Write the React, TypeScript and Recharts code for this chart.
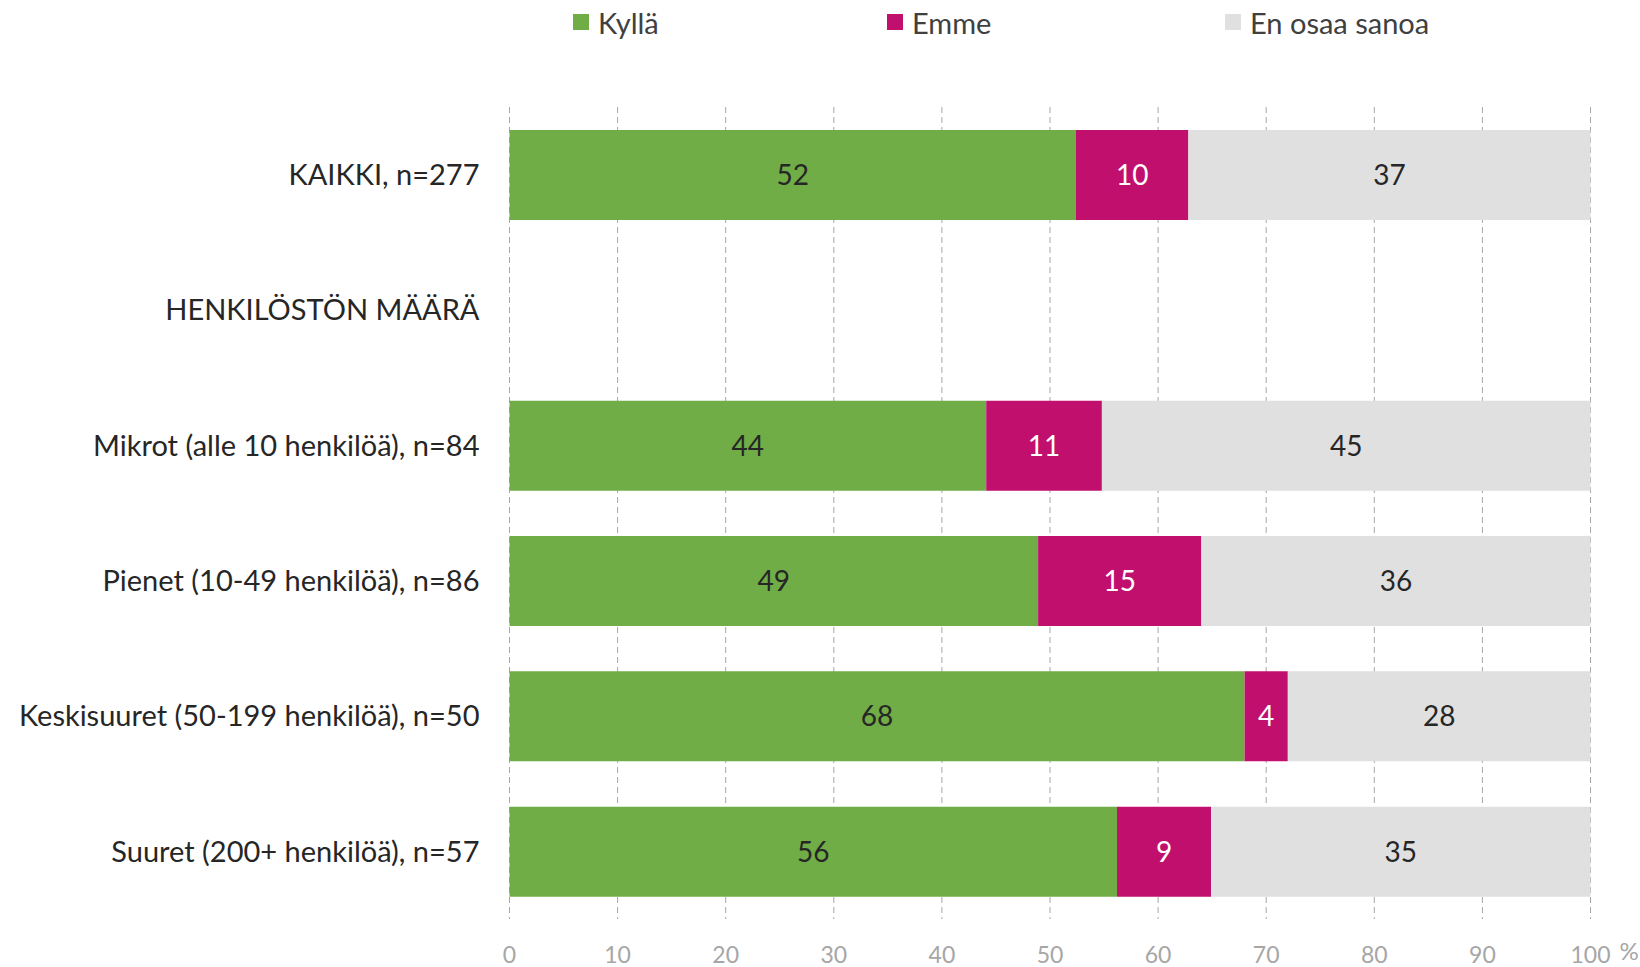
import React from 'react';
import { BarChart, Bar, XAxis, YAxis, CartesianGrid, Legend, LabelList } from 'recharts';

const categories = [
  'KAIKKI, n=277',
  'HENKILÖSTÖN MÄÄRÄ',
  'Mikrot (alle 10 henkilöä), n=84',
  'Pienet (10-49 henkilöä), n=86',
  'Keskisuuret (50-199 henkilöä), n=50',
  'Suuret (200+ henkilöä), n=57',
];
const kylla: (number | null)[] = [52.4, null, 44.1, 48.9, 68.0, 56.2];
const emme: (number | null)[] = [10.4, null, 10.7, 15.1, 4.0, 8.7];
const eos: (number | null)[] = [37.2, null, 45.2, 36.0, 28.0, 35.1];
const seriesNames = ['Kyllä', 'Emme', 'En osaa sanoa'];
const xTicks = [0, 10, 20, 30, 40, 50, 60, 70, 80, 90, 100];

const COLORS = ['#70AD47', '#C00F6D', '#E0E0E0'];
const FONT = 'Lato, "Open Sans", sans-serif';

const data = categories.map((c, i) => ({
  name: c,
  kylla: kylla[i],
  emme: emme[i],
  eos: eos[i],
}));

const fmt = (v: any) => (v === null || v === undefined ? '' : String(Math.round(Number(v))));

const legendLefts = [573, 887, 1225];

const renderLegend = (props: any) => {
  const payload = props.payload || [];
  return (
    <div style={{ position: 'relative', height: 44, width: 1640, fontFamily: FONT }}>
      {seriesNames.map((n, i) => {
        const p = payload.find((q: any) => q.value === n);
        const color = p ? p.color : COLORS[i];
        return (
          <div
            key={n}
            style={{
              position: 'absolute',
              left: legendLefts[i],
              top: 6,
              display: 'flex',
              alignItems: 'center',
              height: 32,
              fontSize: 29,
              color: '#404040',
            }}
          >
            <span style={{ display: 'inline-block', width: 16, height: 16, background: color, marginRight: 9 }} />
            <span>{n}</span>
          </div>
        );
      })}
    </div>
  );
};

const XTick = (props: any) => {
  const { x, y, payload } = props;
  const v = payload.value;
  return (
    <g>
      <text x={x} y={y} dy={18} textAnchor="middle" fill="#A6A6A6" fontSize={23} fontFamily={FONT}>
        {v}
      </text>
      {v === 100 ? (
        <text x={x + 29} y={y} dy={15} textAnchor="start" fill="#A6A6A6" fontSize={24} fontFamily={FONT}>
          %
        </text>
      ) : null}
    </g>
  );
};

export default function App() {
  return (
    <div style={{ position: 'absolute', left: 0, top: 0, background: '#fff' }}>
      <BarChart
        width={1640}
        height={967}
        data={data}
        layout="vertical"
        margin={{ top: 63, right: 49.5, bottom: 0, left: 0 }}
      >
        <CartesianGrid horizontal={false} vertical={true} stroke="#A6A6A6" strokeDasharray="6 4" />
        <XAxis
          type="number"
          domain={[0, 100]}
          ticks={xTicks}
          axisLine={false}
          tickLine={false}
          tickSize={0}
          tickMargin={26}
          height={48}
          tick={<XTick />}
          interval={0}
        />
        <YAxis
          type="category"
          dataKey="name"
          width={509.5}
          axisLine={false}
          tickLine={false}
          tickSize={0}
          tickMargin={30}
          interval={0}
          tick={{ fill: '#262626', fontSize: 29, fontFamily: FONT }}
        />
        <Legend verticalAlign="top" content={renderLegend} wrapperStyle={{ top: 0, left: 0, width: 1640 }} />
        <Bar dataKey="kylla" name={seriesNames[0]} stackId="a" fill={COLORS[0]} barSize={90} isAnimationActive={false}>
          <LabelList dataKey="kylla" position="center" formatter={fmt} fill="#262626" fontSize={28} fontFamily={FONT} />
        </Bar>
        <Bar dataKey="emme" name={seriesNames[1]} stackId="a" fill={COLORS[1]} barSize={90} isAnimationActive={false}>
          <LabelList dataKey="emme" position="center" formatter={fmt} fill="#FFFFFF" fontSize={28} fontFamily={FONT} />
        </Bar>
        <Bar dataKey="eos" name={seriesNames[2]} stackId="a" fill={COLORS[2]} barSize={90} isAnimationActive={false}>
          <LabelList dataKey="eos" position="center" formatter={fmt} fill="#262626" fontSize={28} fontFamily={FONT} />
        </Bar>
      </BarChart>
    </div>
  );
}
